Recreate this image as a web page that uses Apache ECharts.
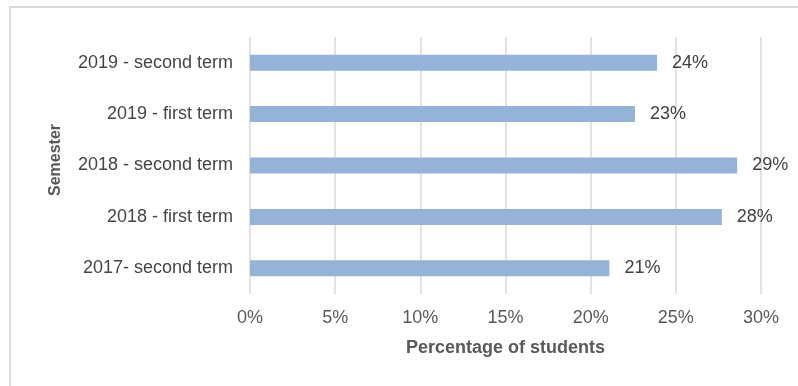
<!DOCTYPE html>
<html>
<head>
<meta charset="utf-8">
<script src="https://cdn.jsdelivr.net/npm/echarts@6/dist/echarts.min.js"></script>
<style>
  html, body { margin: 0; padding: 0; background: #ffffff; }
  #chart { width: 798px; height: 386px; }
</style>
</head>
<body>
<div id="chart"></div>
<script>
// Semesters, listed top to bottom
const semesters = [
  '2019 - second term',
  '2019 - first term',
  '2018 - second term',
  '2018 - first term',
  '2017- second term'
];
// Share of students per semester (fraction of 1)
const shares = [0.239, 0.226, 0.286, 0.277, 0.211];
// Percentage axis ticks
const axisMin = 0;
const axisMax = 0.30;
const axisStep = 0.05;

const FONT = "'Liberation Sans', Arial, sans-serif";
const pct = v => Math.round(v * 100) + '%';

const chart = echarts.init(document.getElementById('chart'), null, { renderer: 'canvas' });
chart.setOption({
  backgroundColor: '#ffffff',
  animation: false,
  grid: { left: 250, right: 37, top: 37, bottom: 92, containLabel: false },
  xAxis: {
    type: 'value',
    min: axisMin,
    max: axisMax,
    interval: axisStep,
    name: 'Percentage of students',
    nameLocation: 'middle',
    nameGap: 45,
    nameTextStyle: { fontFamily: FONT, fontSize: 18, fontWeight: 'bold', color: '#595959' },
    axisLine: { show: false },
    axisTick: { show: false },
    axisLabel: { formatter: pct, fontFamily: FONT, fontSize: 18, color: '#595959', margin: 15 },
    splitLine: { show: true, lineStyle: { color: '#d9d9d9', width: 1.5 } }
  },
  yAxis: {
    type: 'category',
    data: semesters,
    inverse: true,
    axisLine: { show: false },
    axisTick: { show: false },
    axisLabel: { fontFamily: FONT, fontSize: 18, color: '#454545', margin: 17 },
    splitLine: { show: false }
  },
  series: [{
    type: 'bar',
    data: shares,
    barWidth: 16,
    itemStyle: { color: '#95b3d7' },
    label: {
      show: true,
      position: 'right',
      distance: 15,
      formatter: p => pct(p.value),
      fontFamily: FONT,
      fontSize: 18,
      color: '#404040'
    }
  }],
  graphic: [
    {
      type: 'rect',
      silent: true,
      shape: { x: 10, y: 7, width: 820, height: 420 },
      style: { fill: 'none', stroke: '#d9d9d9', lineWidth: 2 }
    },
    {
      type: 'text',
      silent: true,
      x: 56,
      y: 160,
      rotation: Math.PI / 2,
      style: {
        text: 'Semester',
        fontFamily: FONT,
        fontSize: 16,
        fontWeight: 'bold',
        fill: '#595959',
        textAlign: 'center',
        textVerticalAlign: 'middle'
      }
    }
  ]
});
</script>
</body>
</html>
